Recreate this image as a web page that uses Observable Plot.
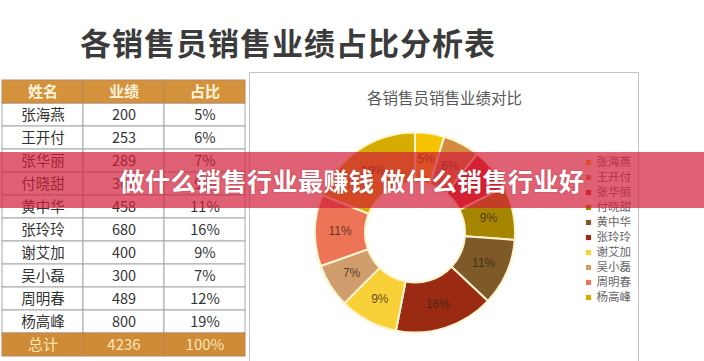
<!DOCTYPE html>
<html>
<head>
<meta charset="utf-8">
<script src="https://cdn.jsdelivr.net/npm/d3@7"></script>
<script src="https://cdn.jsdelivr.net/npm/@observablehq/plot@0.6"></script>
<style>
  html, body { margin: 0; padding: 0; background: #fff; }
  body { width: 704px; height: 361px; overflow: hidden; position: relative;
         font-family: "Noto Sans CJK SC", "Noto Sans", sans-serif; }
  #title { position: absolute; left: 0; top: 19px; width: 704px; padding-left: 80px; box-sizing: border-box;
           font-size: 31px; font-weight: bold; color: #3b3b3b; letter-spacing: 1px; line-height: 46px; white-space: nowrap; }
  #table { position: absolute; left: 0; top: 75px; }
  #box { position: absolute; left: 249px; top: 72px; width: 390px; height: 320px; border: 1px solid #c4c4c4; box-sizing: border-box; }
  #chart { position: absolute; left: 250px; top: 73px; }
  #banner { position: absolute; left: 0; top: 152px; width: 704px; height: 56px; background: rgba(210, 30, 55, 0.7);
            color: #fff; font-weight: bold; font-size: 25px; line-height: 56px; text-align: center; letter-spacing: 0.5px;
            white-space: nowrap; text-shadow: 0 0 2px rgba(120,0,20,0.35); }
  svg { overflow: visible; }
</style>
</head>
<body>
<div id="title">各销售员销售业绩占比分析表</div>
<div id="table"></div>
<div id="box"></div>
<div id="chart"></div>
<div id="banner">做什么销售行业最赚钱 做什么销售行业好</div>
<script>
// ---- data ----
const names = ["张海燕", "王开付", "张华丽", "付晓甜", "黄中华", "张玲玲", "谢艾加", "吴小磊", "周明春", "杨高峰"];
const sales = [200, 253, 289, 367, 458, 680, 400, 300, 489, 800];
const tablePct = ["5%", "6%", "7%", "9%", "11%", "16%", "9%", "7%", "12%", "19%"];
const chartPct = ["5%", "6%", "7%", "9%", "11%", "16%", "9%", "7%", "11%", "19%"];
const sliceColors = ["#F5C400", "#D38B3F", "#E22A2A", "#A68600", "#7E5A28", "#9A2A12", "#F7D137", "#CF9E6C", "#EE7458", "#D5AC00"];
const headers = ["姓名", "业绩", "占比"];
const totalRow = ["总计", "4236", "100%"];
const tableTitle = "各销售员销售业绩对比";

// ---- table ----
const rowIds = d3.range(names.length + 2);
const bodyCells = [];
names.forEach((n, i) => {
  const r = i + 1;
  bodyCells.push({row: r, col: headers[0], text: n});
  bodyCells.push({row: r, col: headers[1], text: String(sales[i])});
  bodyCells.push({row: r, col: headers[2], text: tablePct[i]});
});
const headCells = headers.map(h => ({row: 0, col: h, text: h}));
const totalCells = headers.map((h, j) => ({row: names.length + 1, col: h, text: totalRow[j]}));

const tablePlot = Plot.plot({
  width: 247, height: 287,
  marginTop: 0, marginBottom: 2, marginLeft: 1, marginRight: 2,
  style: {fontFamily: "'Noto Sans CJK SC', 'Noto Sans', sans-serif", background: "transparent"},
  x: {type: "band", domain: headers, padding: 0, axis: null},
  y: {type: "band", domain: rowIds, padding: 0, axis: null},
  marks: [
    Plot.cell(bodyCells, {x: "col", y: "row", fill: "#ffffff", stroke: "#a8a8a8", strokeWidth: 1}),
    Plot.cell(headCells, {x: "col", y: "row", fill: "#D4923C", stroke: "#b8875a", strokeWidth: 1}),
    Plot.cell(totalCells, {x: "col", y: "row", fill: "#D08B37", stroke: "#b8875a", strokeWidth: 1}),
    Plot.text(bodyCells, {x: "col", y: "row", text: "text", fill: "#333333", fontSize: 14.5}),
    Plot.text(headCells, {x: "col", y: "row", text: "text", fill: "#FFF4DC", fontSize: 15, fontWeight: "bold"}),
    Plot.text(totalCells, {x: "col", y: "row", text: "text", fill: "#FCE6B8", fontSize: 15})
  ]
});
document.getElementById("table").appendChild(tablePlot);

// ---- donut chart ----
const rows = names.map((n, i) => ({name: n, value: sales[i], label: chartPct[i]}));
const colorMap = new Map(names.map((n, i) => [n, sliceColors[i]]));
const cx = 165, cy = 159.5, rOuter = 100, rInner = 50;

function donut(index, scales) {
  const color = (scales && scales.color) ? scales.color : (n => colorMap.get(n));
  const g = d3.create("svg:g").attr("transform", `translate(${cx},${cy})`);
  const arcs = d3.pie().sort(null).value(d => d.value)(rows);
  const arc = d3.arc().innerRadius(rInner).outerRadius(rOuter);
  g.selectAll("path").data(arcs).join("path")
    .attr("d", arc)
    .attr("fill", d => color(d.data.name))
    .attr("stroke", "#FFF4CF")
    .attr("stroke-width", 2)
    .attr("stroke-linejoin", "round");
  const lab = d3.arc().innerRadius(75).outerRadius(75);
  g.selectAll("text").data(arcs).join("text")
    .attr("transform", d => `translate(${lab.centroid(d)})`)
    .attr("text-anchor", "middle")
    .attr("dy", "0.35em")
    .attr("font-size", 12)
    .attr("font-family", "'Liberation Sans', 'Noto Sans', sans-serif")
    .attr("fill", "#3a2412")
    .attr("fill-opacity", 0.8)
    .text(d => d.data.label);
  return g.node();
}

const chartPlot = Plot.plot({
  width: 388, height: 288,
  margin: 0,
  style: {fontFamily: "'Noto Sans CJK SC', 'Noto Sans', sans-serif", background: "transparent"},
  x: {axis: null},
  y: {type: "point", domain: names, range: [81, 232], axis: null},
  color: {domain: names, range: sliceColors},
  marks: [
    donut,
    Plot.text([tableTitle], {frameAnchor: "top", dy: 19, text: d => d, fontSize: 15.5, fill: "#595959"}),
    Plot.dot(rows, {y: "name", frameAnchor: "left", dx: 338, symbol: "square", r: 2.9, fill: "name", stroke: null}),
    Plot.text(rows, {y: "name", frameAnchor: "left", dx: 346, text: "name", textAnchor: "start", fontSize: 11.5, fill: "#666666"})
  ]
});
document.getElementById("chart").appendChild(chartPlot);
</script>
</body>
</html>
